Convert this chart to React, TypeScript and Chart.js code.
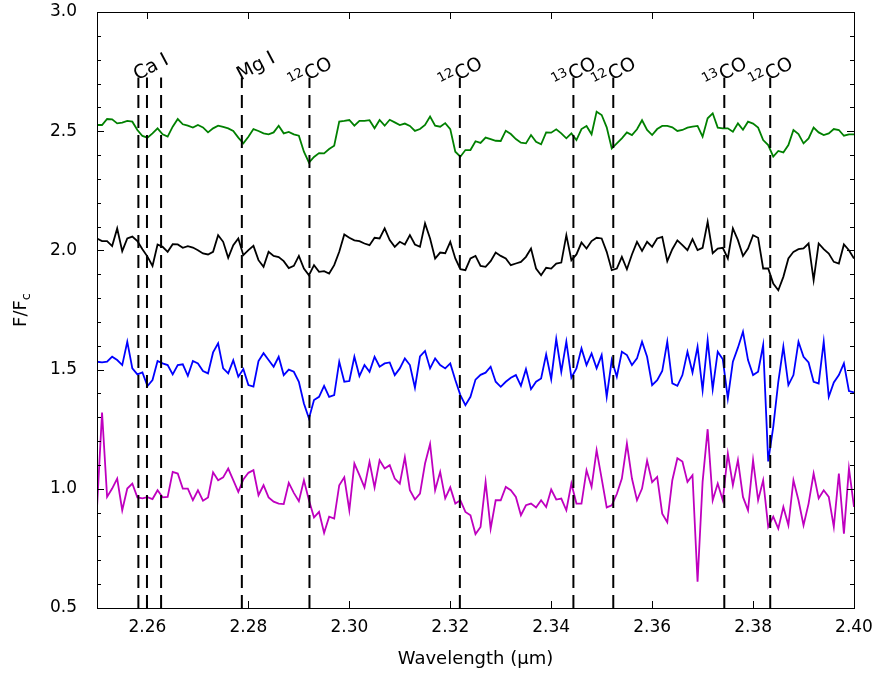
import React, { useEffect, useRef } from "react";
import { Chart, registerables } from "chart.js";
Chart.register(...registerables);

// wavelength grid of the spectra (µm)
const WL_START = 2.25;
const WL_STEP = 0.001;

const greenFlux = [
  2.526, 2.526, 2.551, 2.550, 2.533, 2.536, 2.543, 2.540, 2.505, 2.480, 2.473, 2.491, 2.512, 2.487, 2.477, 2.519, 2.551, 2.529, 2.523, 2.515,
  2.526, 2.516, 2.495, 2.512, 2.523, 2.518, 2.512, 2.501, 2.473, 2.449, 2.477, 2.509, 2.501, 2.491, 2.487, 2.495, 2.523, 2.491, 2.497,
  2.487, 2.481, 2.414, 2.368, 2.392, 2.408, 2.407, 2.425, 2.439, 2.540, 2.543, 2.547, 2.523, 2.543, 2.543, 2.546, 2.512, 2.547, 2.523, 2.548,
  2.537, 2.526, 2.532, 2.522, 2.501, 2.509, 2.526, 2.561, 2.523, 2.519, 2.534, 2.509, 2.414, 2.393, 2.421, 2.421, 2.458, 2.451,
  2.473, 2.467, 2.460, 2.459, 2.502, 2.488, 2.467, 2.452, 2.449, 2.484, 2.456, 2.445, 2.495, 2.494, 2.508, 2.491, 2.470, 2.491, 2.463, 2.509,
  2.522, 2.487, 2.582, 2.568, 2.516, 2.428, 2.449, 2.470, 2.495, 2.484, 2.508, 2.546, 2.505, 2.484, 2.509, 2.522, 2.522,
  2.516, 2.501, 2.505, 2.515, 2.519, 2.522, 2.477, 2.554, 2.575, 2.515, 2.512, 2.512, 2.498, 2.533, 2.506, 2.540, 2.532, 2.515, 2.463, 2.442,
  2.393, 2.417, 2.411, 2.442, 2.505, 2.488, 2.449, 2.470, 2.515, 2.495, 2.484, 2.491, 2.509, 2.505, 2.481, 2.487, 2.487,
];

const blackFlux = [
  2.050, 2.039, 2.039, 2.018, 2.092, 1.997, 2.050, 2.058, 2.039, 2.005, 1.974, 1.935, 2.025, 2.015, 1.994, 2.026, 2.025, 2.011, 2.018, 2.012,
  2.001, 1.987, 1.983, 1.994, 2.064, 2.036, 1.969, 2.022, 2.050, 1.980, 2.001, 2.019, 1.959, 1.931, 1.994, 1.977, 1.972, 1.955, 1.926,
  1.935, 1.977, 1.924, 1.896, 1.938, 1.910, 1.913, 1.903, 1.938, 1.994, 2.067, 2.053, 2.042, 2.039, 2.029, 2.022, 2.053, 2.050, 2.092, 2.043,
  2.015, 2.036, 2.025, 2.064, 2.025, 2.015, 2.113, 2.050, 1.966, 1.991, 1.988, 2.036, 1.966, 1.921, 1.917, 1.966, 1.977, 1.935,
  1.931, 1.955, 1.991, 1.977, 1.966, 1.938, 1.945, 1.952, 1.973, 2.008, 1.924, 1.896, 1.927, 1.924, 1.945, 1.949, 2.064, 1.959, 1.983, 2.033,
  2.008, 2.039, 2.053, 2.050, 1.994, 1.917, 1.924, 1.973, 1.921, 1.983, 2.036, 1.998, 2.036, 2.015, 2.050, 2.057, 1.955,
  2.005, 2.042, 2.022, 2.001, 2.047, 2.001, 2.011, 2.120, 1.988, 2.008, 2.011, 1.966, 2.092, 2.043, 1.977, 2.008, 2.064, 2.053, 1.924, 1.924,
  1.861, 1.833, 1.889, 1.966, 1.994, 2.005, 2.008, 2.029, 1.875, 2.029, 2.005, 1.987, 1.952, 1.945, 2.025, 2.001, 1.966,
];

const blueFlux = [
  1.533, 1.530, 1.533, 1.554, 1.540, 1.519, 1.617, 1.505, 1.480, 1.488, 1.431, 1.456, 1.536, 1.526, 1.519, 1.480, 1.519, 1.522, 1.474, 1.536,
  1.526, 1.494, 1.484, 1.572, 1.610, 1.505, 1.484, 1.539, 1.470, 1.502, 1.435, 1.429, 1.536, 1.569, 1.540, 1.512, 1.554, 1.477, 1.500,
  1.491, 1.449, 1.358, 1.295, 1.372, 1.386, 1.432, 1.386, 1.393, 1.533, 1.449, 1.452, 1.554, 1.473, 1.519, 1.491, 1.554, 1.512, 1.526, 1.530,
  1.477, 1.505, 1.547, 1.519, 1.424, 1.555, 1.578, 1.505, 1.547, 1.519, 1.505, 1.526, 1.456, 1.393, 1.351, 1.386, 1.458, 1.478,
  1.487, 1.512, 1.449, 1.428, 1.449, 1.466, 1.477, 1.432, 1.502, 1.418, 1.449, 1.463, 1.564, 1.460, 1.628, 1.491, 1.617, 1.466, 1.505, 1.589,
  1.519, 1.568, 1.505, 1.561, 1.386, 1.540, 1.470, 1.575, 1.561, 1.519, 1.547, 1.617, 1.554, 1.435, 1.456, 1.494, 1.617,
  1.442, 1.432, 1.477, 1.575, 1.488, 1.596, 1.414, 1.624, 1.418, 1.575, 1.543, 1.379, 1.533, 1.592, 1.659, 1.540, 1.477, 1.491, 1.603, 1.115,
  1.260, 1.449, 1.596, 1.435, 1.477, 1.617, 1.554, 1.530, 1.449, 1.442, 1.617, 1.386, 1.446, 1.477, 1.526, 1.410, 1.404,
];

const magentaFlux = [
  0.920, 1.320, 0.966, 1.001, 1.043, 0.910, 1.001, 1.022, 0.964, 0.960, 0.965, 0.957, 0.994, 0.964, 0.966, 1.071, 1.064, 1.001, 1.001, 0.952,
  0.994, 0.950, 0.964, 1.069, 1.036, 1.048, 1.085, 1.036, 0.987, 1.039, 1.067, 1.078, 0.973, 1.015, 0.964, 0.946, 0.938, 0.936, 1.025,
  0.983, 0.948, 1.036, 0.952, 0.880, 0.903, 0.815, 0.883, 0.875, 1.015, 1.048, 0.910, 1.106, 1.057, 1.006, 1.113, 1.006, 1.120, 1.085, 1.099,
  1.043, 1.022, 1.132, 0.994, 0.955, 0.980, 1.106, 1.188, 0.994, 1.071, 0.960, 1.006, 0.938, 0.952, 0.903, 0.889, 0.810, 0.840,
  1.029, 0.833, 0.952, 0.952, 1.008, 0.994, 0.966, 0.889, 0.931, 0.938, 0.922, 0.952, 0.924, 0.997, 0.955, 0.959, 0.910, 1.022, 0.938, 0.938,
  1.078, 1.008, 1.162, 1.043, 0.922, 0.931, 0.978, 1.043, 1.190, 1.043, 0.952, 1.001, 1.118, 1.028, 1.050, 0.896, 0.860,
  1.036, 1.128, 1.114, 1.029, 1.057, 0.610, 1.029, 1.250, 0.952, 1.022, 0.952, 1.148, 1.015, 1.120, 0.966, 0.910, 1.120, 0.952, 1.036, 0.840,
  0.883, 0.833, 0.924, 0.847, 1.036, 0.952, 0.847, 0.938, 1.064, 0.960, 0.994, 0.966, 0.840, 1.064, 0.812, 1.085, 0.924,
];

// spectral features (µm)
const featureWavelengths = [2.2582, 2.2599, 2.2627, 2.2787, 2.2921, 2.3219, 2.3444, 2.3523, 2.3743, 2.3834];
const featureLabelWavelengths = [2.2582, 2.2787, 2.2921, 2.3219, 2.3444, 2.3523, 2.3743, 2.3834];
const featureLabelIsotopes = ["", "", "12", "12", "13", "12", "13", "12"];
const featureLabelNames = ["Ca I", "Mg I", "CO", "CO", "CO", "CO", "CO", "CO"];
const featureLineTop = 2.725;

const xTicks = [2.26, 2.28, 2.3, 2.32, 2.34, 2.36, 2.38, 2.4];
const yTicks = [0.5, 1.0, 1.5, 2.0, 2.5, 3.0];
const yMinorTicks = [0.6, 0.7, 0.8, 0.9, 1.1, 1.2, 1.3, 1.4, 1.6, 1.7, 1.8, 1.9, 2.1, 2.2, 2.3, 2.4, 2.6, 2.7, 2.8, 2.9];
const X_MIN = 2.25, X_MAX = 2.4, Y_MIN = 0.5, Y_MAX = 3.0;

const FONT = "'DejaVu Sans', sans-serif";
const LABEL_ANGLE = (28 * Math.PI) / 180;

export default function App() {
  const ref = useRef<HTMLCanvasElement>(null);
  useEffect(() => {
    if (!ref.current) return;
    const wl = greenFlux.map((_, i) => +(WL_START + i * WL_STEP).toFixed(4));
    const spec = (arr: number[], color: string) => ({
      data: arr.map((y, i) => ({ x: wl[i], y })),
      borderColor: color,
      borderWidth: 1.8,
      pointRadius: 0,
      fill: false,
      tension: 0,
    });
    const dashSets = featureWavelengths.map((w) => ({
      data: [{ x: w, y: Y_MIN }, { x: w, y: featureLineTop }],
      borderColor: "#000",
      borderWidth: 2,
      borderDash: [13, 7],
      pointRadius: 0,
      fill: false,
    }));

    const decor = {
      id: "decor",
      afterDraw(chart: any) {
        const { ctx, chartArea: a, scales } = chart;
        const xs = scales.x, ys = scales.y;
        ctx.save();
        ctx.strokeStyle = "#000";
        ctx.lineWidth = 1;
        ctx.strokeRect(Math.round(a.left) + 0.5, Math.round(a.top) + 0.5, Math.round(a.right - a.left), Math.round(a.bottom - a.top));
        // ticks (inward)
        ctx.beginPath();
        const yt = (v: number, len: number) => {
          const py = Math.round(ys.getPixelForValue(v)) + 0.5;
          ctx.moveTo(a.left, py); ctx.lineTo(a.left + len, py);
          ctx.moveTo(a.right, py); ctx.lineTo(a.right - len, py);
        };
        const xt = (v: number, len: number) => {
          const px = Math.round(xs.getPixelForValue(v)) + 0.5;
          ctx.moveTo(px, a.bottom); ctx.lineTo(px, a.bottom - len);
          ctx.moveTo(px, a.top); ctx.lineTo(px, a.top + len);
        };
        yTicks.forEach((v) => yt(v, 7));
        yMinorTicks.forEach((v) => yt(v, 4));
        xTicks.forEach((v) => xt(v, 7));
        ctx.stroke();
        // feature labels (rotated)
        ctx.fillStyle = "#000";
        ctx.textBaseline = "alphabetic";
        featureLabelWavelengths.forEach((w, i) => {
          const px = xs.getPixelForValue(w);
          const base = ys.getPixelForValue(featureLineTop) + 3;
          const iso = featureLabelIsotopes[i];
          ctx.save();
          ctx.translate(px - 1, base);
          ctx.rotate(-LABEL_ANGLE);
          ctx.font = `19px ${FONT}`;
          ctx.textAlign = "left";
          ctx.fillText(featureLabelNames[i], 0, 0);
          if (iso) {
            ctx.font = `13px ${FONT}`;
            ctx.textAlign = "right";
            ctx.fillText(iso, -1, -7);
          }
          ctx.restore();
        });
        // axis titles
        ctx.font = `18px ${FONT}`;
        ctx.textAlign = "center";
        ctx.fillText("Wavelength (\u03bcm)", (a.left + a.right) / 2, 664);
        ctx.save();
        ctx.translate(26, (a.top + a.bottom) / 2);
        ctx.rotate(-Math.PI / 2);
        ctx.font = `18px ${FONT}`;
        const main = "F/F";
        const mw = ctx.measureText(main).width;
        ctx.font = `13px ${FONT}`;
        const sw = ctx.measureText("c").width;
        ctx.font = `18px ${FONT}`;
        ctx.textAlign = "left";
        ctx.fillText(main, -(mw + sw) / 2, 0);
        ctx.font = `13px ${FONT}`;
        ctx.fillText("c", -(mw + sw) / 2 + mw, 4);
        ctx.restore();
        ctx.restore();
      },
    };

    const chart = new Chart(ref.current, {
      type: "line",
      data: {
        datasets: [
          ...dashSets,
          spec(greenFlux, "#008000"),
          spec(blackFlux, "#000000"),
          spec(blueFlux, "#0000ff"),
          spec(magentaFlux, "#bf00bf"),
        ] as any,
      },
      options: {
        animation: false,
        responsive: true,
        maintainAspectRatio: false,
        layout: { padding: { top: 12, right: 26, left: 0, bottom: 0 } },
        plugins: { legend: { display: false }, tooltip: { enabled: false } },
        scales: {
          x: {
            type: "linear",
            min: X_MIN,
            max: X_MAX,
            grid: { display: false, drawTicks: false },
            border: { display: false },
            afterBuildTicks: (s: any) => { s.ticks = xTicks.map((v) => ({ value: v })); },
            afterFit: (s: any) => { s.height = 65; s.paddingLeft = 0; s.paddingRight = 0; },
            ticks: {
              color: "#000",
              font: { family: FONT, size: 17 },
              padding: 9,
              maxRotation: 0,
              callback: (v: any) => Number(v).toFixed(2),
            },
          },
          y: {
            type: "linear",
            min: Y_MIN,
            max: Y_MAX,
            grid: { display: false, drawTicks: false },
            border: { display: false },
            afterBuildTicks: (s: any) => { s.ticks = yTicks.map((v) => ({ value: v })); },
            afterFit: (s: any) => { s.width = 97; s.paddingTop = 0; s.paddingBottom = 0; },
            ticks: {
              color: "#000",
              font: { family: FONT, size: 17 },
              padding: 20,
              callback: (v: any) => Number(v).toFixed(1),
            },
          },
        },
      },
      plugins: [decor],
    });
    return () => chart.destroy();
  }, []);
  return (
    <div style={{ position: "fixed", left: 0, top: 0, width: 880, height: 673, background: "#fff" }}>
      <canvas ref={ref} />
    </div>
  );
}
